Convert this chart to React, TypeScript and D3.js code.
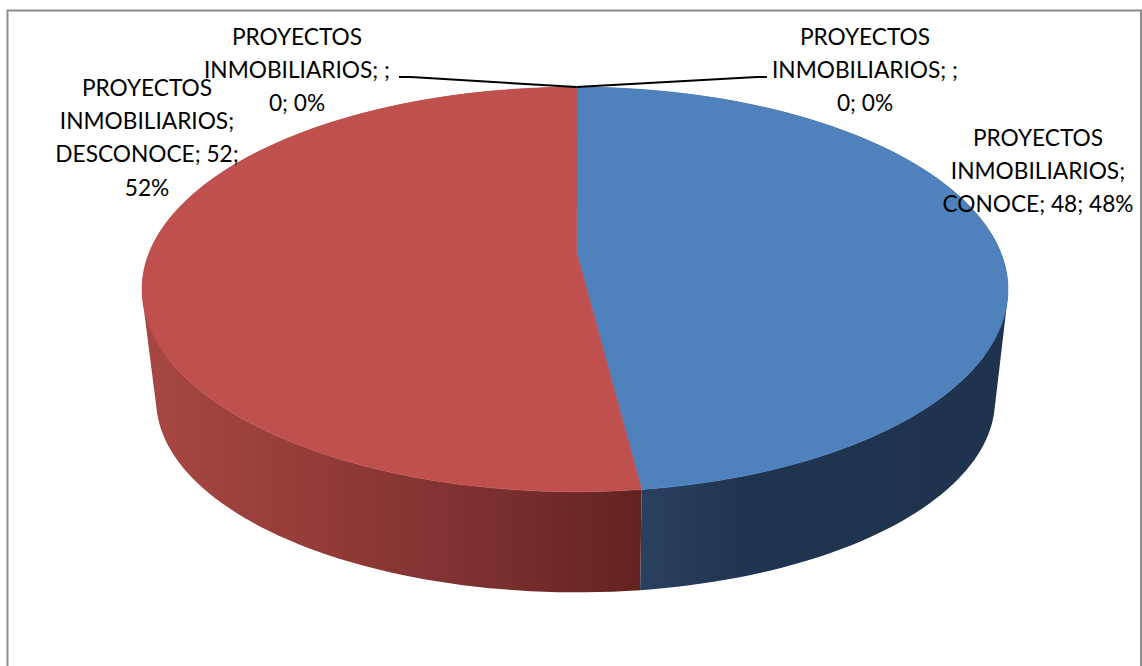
import * as d3 from 'd3';

const seriesName = 'PROYECTOS INMOBILIARIOS';
const categories = ['CONOCE', 'DESCONOCE', '', ''];
const values = [48, 52, 0, 0];
const topColors = ['#4f81bd', '#bf504d', '#9bbb59', '#8064a2'];

const width = 1142;
const height = 666;
const fontFamily = 'Lato, Carlito, Calibri, sans-serif';

// how the flat disc is tilted on screen (top face, then the lower rim)
const apex = { x: 576.5, y: 252 };
const scaleU = 425.5;
const scaleV = 195.4;
const tilt = -0.185;
const sideShift = 1.5; // the outline sits a little left of the slice vertex
const rimOffset = { cx: 577, cy: 400, topCy: 289.5, kx: 0.9688, ky: 0.951 };

const topPoint = (a: number): [number, number] => {
    const u = Math.sin(a);
    const v = -Math.cos(a);
    const w = 1 + tilt * v;
    return [apex.x + (scaleU * u) / w - sideShift * Math.abs(u), apex.y + (scaleV * v) / w];
};

const rimPoint = (a: number): [number, number] => {
    const [x, y] = topPoint(a);
    return [
        rimOffset.cx + (x - apex.x) * rimOffset.kx,
        rimOffset.cy + (y - rimOffset.topCy) * rimOffset.ky,
    ];
};

const pct = (v: number) => `${Math.round((v / d3.sum(values)) * 100)}%`;
const [seriesFirst, seriesSecond] = seriesName.split(' ');

// label line breaks and where each block sits, same order as the values
const labelLayout = [
    { x: 1038, y: 138, lines: (c: string, v: number) => [seriesFirst, `${seriesSecond};`, `${c}; ${v}; ${pct(v)}`] },
    { x: 147, y: 88, lines: (c: string, v: number) => [seriesFirst, `${seriesSecond};`, `${c}; ${v};`, pct(v)] },
    { x: 297, y: 37, lines: (c: string, v: number) => [seriesFirst, `${seriesSecond}; ${c};`, `${v}; ${pct(v)}`], leader: [[411, 77], [399, 77]] },
    { x: 865, y: 37, lines: (c: string, v: number) => [seriesFirst, `${seriesSecond}; ${c};`, `${v}; ${pct(v)}`], leader: [[757, 77], [767, 77]] },
];

const App = () => {
    const arcs = d3.pie<number>().sort(null)(values);
    const line = d3.line();

    const sample = (a0: number, a1: number) =>
        d3.range(0, 121).map((i) => a0 + ((a1 - a0) * i) / 120);

    const topPath = (a0: number, a1: number) =>
        line([[apex.x, apex.y], ...sample(a0, a1).map(topPoint)]) + 'Z';

    // one sub-path per step, all wound the same way, so the twist where
    // the two rims cross does not cancel the fill
    const wallPath = (a0: number, a1: number) => {
        const steps = sample(a0, a1);
        return d3
            .pairs(steps)
            .map(([p, q]) => {
                const quad = [topPoint(p), topPoint(q), rimPoint(q), rimPoint(p)];
                if (d3.polygonArea(quad) < 0) quad.reverse();
                return line(quad) + 'Z';
            })
            .join('');
    };

    const visible = arcs.filter((d) => d.value > 0);

    return (
        <svg
            width={width}
            height={height}
            style={{ position: 'absolute', left: 0, top: 0, background: '#fff' }}
        >
            <defs>
                <linearGradient id="wall0" gradientUnits="userSpaceOnUse" x1={640} x2={1000} y1={0} y2={0}>
                    <stop offset="0" stopColor="#29415f" />
                    <stop offset="0.3" stopColor="#1f3450" />
                    <stop offset="1" stopColor="#1f334e" />
                </linearGradient>
                <linearGradient id="wall1" gradientUnits="userSpaceOnUse" x1={150} x2={640} y1={0} y2={0}>
                    <stop offset="0" stopColor="#a74742" />
                    <stop offset="0.35" stopColor="#933b38" />
                    <stop offset="0.7" stopColor="#7a302e" />
                    <stop offset="1" stopColor="#632320" />
                </linearGradient>
            </defs>

            <rect x={7.5} y={10.5} width={1133.5} height={670} fill="#fff" stroke="#8c8c8c" strokeWidth={2} />

            {visible.map((d) => (
                <path key={`wall${d.index}`} d={wallPath(d.startAngle, d.endAngle)} fill={`url(#wall${d.index})`} />
            ))}
            {visible.map((d) => (
                <path
                    key={`top${d.index}`}
                    d={topPath(d.startAngle, d.endAngle)}
                    fill={topColors[d.index]}
                    stroke={topColors[d.index]}
                    strokeWidth={0.6}
                />
            ))}

            {arcs.map((d) => {
                const layout = labelLayout[d.index];
                const lines = layout.lines(categories[d.index], d.value);
                return (
                    <g key={`label${d.index}`}>
                        {layout.leader && (
                            <path
                                d={line([topPoint(d.startAngle), ...(layout.leader as [number, number][])]) ?? ''}
                                fill="none"
                                stroke="#000"
                                strokeWidth={2}
                            />
                        )}
                        <text textAnchor="middle" fontFamily={fontFamily} fontSize={22.7} fill="#000">
                            {lines.map((t, i) => (
                                <tspan key={i} x={layout.x} y={layout.y + i * 33.2} dy="0.35em">
                                    {t}
                                </tspan>
                            ))}
                        </text>
                    </g>
                );
            })}
        </svg>
    );
};

export default App;
